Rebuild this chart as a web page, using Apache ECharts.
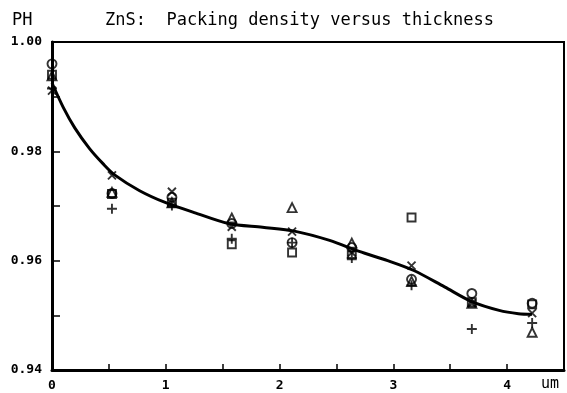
<!DOCTYPE html>
<html>
<head>
<meta charset="utf-8">
<script src="https://cdn.jsdelivr.net/npm/echarts@6/dist/echarts.min.js"></script>
<style>
html,body{margin:0;padding:0;background:#fff;}
#c{width:567px;height:393px;}
</style>
</head>
<body>
<div id="c"></div>
<script>
// Data
const xPos = [0, 0.527, 1.054, 1.58, 2.11, 2.635, 3.16, 3.69, 4.22];
const circleVals   = [0.9960, 0.9723, 0.9716, 0.9668, 0.9633, 0.9624, 0.9566, 0.9540, 0.9522];
const squareVals   = [0.9940, 0.9722, 0.9706, 0.9630, 0.9615, 0.9610, 0.9679, 0.9524, 0.9520];
const triangleVals = [0.9938, 0.9725, 0.9706, 0.9678, 0.9697, 0.9632, 0.9562, 0.9522, 0.9469];
const crossVals    = [0.9911, 0.9756, 0.9726, 0.9662, 0.9653, 0.9615, 0.9591, 0.9522, 0.9504];
const plusVals     = [0.9915, 0.9695, 0.9701, 0.9640, 0.9633, 0.9605, 0.9555, 0.9475, 0.9486];
const fitX = [0, 0.1, 0.2, 0.33, 0.45, 0.55, 0.77, 1.0, 1.25, 1.55, 1.85, 2.13, 2.44, 2.7, 2.95, 3.18, 3.45, 3.69, 3.93, 4.1, 4.22];
const fitY = [0.9925, 0.9880, 0.9843, 0.9805, 0.9777, 0.9757, 0.9728, 0.9706, 0.9688, 0.9668, 0.9661, 0.9654, 0.9637, 0.9617, 0.9600, 0.9582, 0.9552, 0.9525, 0.9509, 0.9503, 0.9502];
const yTicks = ['0.94', '0.96', '0.98', '1.00'];
const xTicks = ['0', '1', '2', '3', '4'];

const zip = (xs, ys) => xs.map((x, i) => [x, ys[i]]);
const mono = 'DejaVu Sans Mono';
const mk = (name, symbol, vals, size) => ({
  name, type: 'scatter', symbol, symbolSize: size, clip: false,
  data: zip(xPos, vals),
  itemStyle: {color: 'rgba(0,0,0,0)', borderColor: '#000', borderWidth: 1.9},
  z: 3
});

const chart = echarts.init(document.getElementById('c'));
chart.setOption({
  animation: false,
  grid: {left: 52, top: 42, width: 513, height: 328, show: true, borderColor: '#000', borderWidth: 2},
  xAxis: {
    type: 'value', min: 0, max: 4.5, interval: 0.5,
    axisLine: {show: true, onZero: false, lineStyle: {color: '#000', width: 3}},
    axisTick: {show: true, inside: true, length: 6, lineStyle: {color: '#000', width: 1.5}},
    splitLine: {show: false},
    axisLabel: {
      margin: 9, color: '#000', fontFamily: mono, fontSize: 13, fontWeight: 'bold',
      formatter: v => { const s = String(Math.round(v * 2) / 2); return xTicks.includes(s) ? s : ''; }
    }
  },
  yAxis: {
    type: 'value', min: 0.94, max: 1.00, interval: 0.01,
    axisLine: {show: true, onZero: false, lineStyle: {color: '#000', width: 3}},
    axisTick: {show: true, inside: true, length: 8, lineStyle: {color: '#000', width: 1.5}},
    splitLine: {show: false},
    axisLabel: {
      margin: 10, color: '#000', fontFamily: mono, fontSize: 13, fontWeight: 'bold',
      formatter: v => { const s = (Math.round(v * 100) / 100).toFixed(2); return yTicks.includes(s) ? s : ''; }
    }
  },
  graphic: [
    {type: 'text', left: 12, top: 12, style: {text: 'PH', font: '17px "DejaVu Sans Mono"', fill: '#000'}},
    {type: 'text', left: 105, top: 12, style: {text: 'ZnS:  Packing density versus thickness', font: '17px "DejaVu Sans Mono"', fill: '#000'}},
    {type: 'text', left: 541, top: 377, style: {text: 'um', font: '15px "DejaVu Sans Mono"', fill: '#000'}}
  ],
  series: [
    {
      name: 'fit', type: 'line', smooth: 0.3, symbol: 'none', clip: false,
      data: zip(fitX, fitY),
      lineStyle: {color: '#000', width: 3}, z: 2
    },
    mk('circle', 'circle', circleVals, 9),
    mk('square', 'rect', squareVals, 8),
    mk('triangle', 'triangle', triangleVals, 9),
    mk('cross', 'path://M0,0 L10,10 M10,0 L0,10', crossVals, 8),
    mk('plus', 'path://M5,0 L5,10 M0,5 L10,5', plusVals, 10)
  ]
});
</script>
</body>
</html>
